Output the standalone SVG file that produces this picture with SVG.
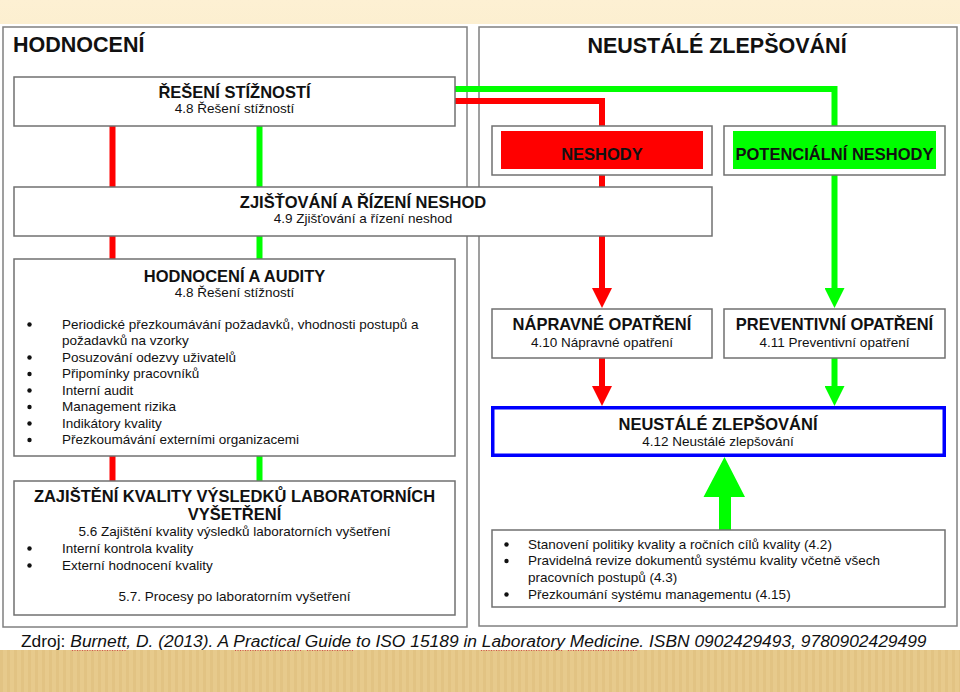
<svg xmlns="http://www.w3.org/2000/svg" width="960" height="692" viewBox="0 0 960 692">
<defs>
<style>
text{font-family:"Liberation Sans",Arial,sans-serif;fill:#111}
.h{font-size:21.5px;font-weight:bold}
.t{font-size:16.5px;font-weight:bold;text-anchor:middle}
.s{font-size:13.5px;text-anchor:middle}
.b{font-size:13.5px}
.dot{fill:#111}
.panel{fill:#fff;stroke:#808080;stroke-width:1.5}
.box{fill:#fff;stroke:#707070;stroke-width:1.5}
.red{fill:none;stroke:#ff0000;stroke-width:6}
.grn{fill:none;stroke:#00ff00;stroke-width:6}
.foot{font-size:17.4px}
.sq{stroke:#d05050;stroke-width:1.2;stroke-dasharray:1 1.5}
</style>
<marker id="ar" viewBox="0 -10 20 20" refX="0" refY="0" markerWidth="20" markerHeight="20" markerUnits="userSpaceOnUse" orient="auto"><path d="M0,-10 L20,0 L0,10 Z" fill="#ff0000"/></marker>
<marker id="ag" viewBox="0 -10 20 20" refX="0" refY="0" markerWidth="20" markerHeight="20" markerUnits="userSpaceOnUse" orient="auto"><path d="M0,-10 L20,0 L0,10 Z" fill="#00ff00"/></marker>
<pattern id="stripes" width="7" height="42" patternUnits="userSpaceOnUse">
<rect width="7" height="42" fill="#e7ca8c"/>
<rect x="0" width="3" height="42" fill="#e2c383"/>
</pattern>
<linearGradient id="top" x1="0" y1="0" x2="0" y2="1">
<stop offset="0" stop-color="#fdf0d3"/>
<stop offset="1" stop-color="#fcefd0"/>
</linearGradient>
</defs>
<rect width="960" height="692" fill="#fff"/>
<rect width="960" height="24" fill="url(#top)"/>
<rect y="650" width="960" height="42" fill="url(#stripes)"/>

<g id="panel-hodnoceni">
<rect class="panel" x="3" y="27" width="464" height="600"/>
<text class="h" x="13" y="52">HODNOCENÍ</text>
</g>
<g id="panel-zlepsovani">
<rect class="panel" x="479" y="27" width="478" height="599"/>
<text class="h" x="717" y="53" text-anchor="middle">NEUSTÁLÉ ZLEPŠOVÁNÍ</text>
</g>

<g id="connectors">
<path class="red" d="M112.5,126 V481"/>
<path class="grn" d="M259.5,126 V481"/>
<path class="red" d="M455,101 H602 V288" marker-end="url(#ar)"/>
<path class="grn" d="M455,89 H834.5 V288" marker-end="url(#ag)"/>
<path class="red" d="M602,358 V386" marker-end="url(#ar)"/>
<path class="grn" d="M834.5,358 V386" marker-end="url(#ag)"/>
<polygon points="724.5,457 745,497 731,497 731,530 719,530 719,497 703.5,497" fill="#00ff00"/>
</g>

<g id="reseni-stiznosti">
<rect class="box" x="14" y="77" width="441" height="49"/>
<text class="t" x="234.5" y="97.5">ŘEŠENÍ STÍŽNOSTÍ</text>
<text class="s" x="234.5" y="113">4.8 Řešení stížností</text>
</g>

<g id="zjistovani">
<rect class="box" x="14" y="187" width="698" height="49"/>
<text class="t" x="363" y="207.5">ZJIŠŤOVÁNÍ A ŘÍZENÍ NESHOD</text>
<text class="s" x="363" y="223">4.9 Zjišťování a řízení neshod</text>
</g>

<g id="hodnoceni-audity">
<rect class="box" x="14" y="259" width="441" height="197"/>
<text class="t" x="234.5" y="281.5">HODNOCENÍ A AUDITY</text>
<text class="s" x="234.5" y="297">4.8 Řešení stížností</text>
<circle class="dot" cx="29.5" cy="324.5" r="2.2"/><text class="b" x="62" y="328.5">Periodické přezkoumávání požadavků, vhodnosti postupů a</text>
<text class="b" x="62" y="345">požadavků na vzorky</text>
<circle class="dot" cx="29.5" cy="357.5" r="2.2"/><text class="b" x="62" y="361.5">Posuzování odezvy uživatelů</text>
<circle class="dot" cx="29.5" cy="374" r="2.2"/><text class="b" x="62" y="378">Připomínky pracovníků</text>
<circle class="dot" cx="29.5" cy="390.5" r="2.2"/><text class="b" x="62" y="394.5">Interní audit</text>
<circle class="dot" cx="29.5" cy="407" r="2.2"/><text class="b" x="62" y="411">Management rizika</text>
<circle class="dot" cx="29.5" cy="423.5" r="2.2"/><text class="b" x="62" y="427.5">Indikátory kvality</text>
<circle class="dot" cx="29.5" cy="440" r="2.2"/><text class="b" x="62" y="444">Přezkoumávání externími organizacemi</text>
</g>

<g id="zajisteni-kvality">
<rect class="box" x="14" y="481" width="441" height="134"/>
<text class="t" x="234.5" y="502">ZAJIŠTĚNÍ KVALITY VÝSLEDKŮ LABORATORNÍCH</text>
<text class="t" x="234.5" y="519.5">VYŠETŘENÍ</text>
<text class="s" x="234.5" y="535.5">5.6 Zajištění kvality výsledků laboratorních vyšetření</text>
<circle class="dot" cx="29.5" cy="548.5" r="2.2"/><text class="b" x="62" y="552.5">Interní kontrola kvality</text>
<circle class="dot" cx="29.5" cy="565.5" r="2.2"/><text class="b" x="62" y="569.5">Externí hodnocení kvality</text>
<text class="s" x="234.5" y="601">5.7. Procesy po laboratorním vyšetření</text>
</g>

<g id="neshody">
<rect class="box" x="492" y="126" width="220" height="49"/>
<rect x="501" y="131" width="202" height="38" fill="#ff0000"/>
<text class="t" x="602" y="159.5">NESHODY</text>
</g>

<g id="potencialni-neshody">
<rect class="box" x="724" y="126" width="221" height="49"/>
<rect x="733" y="131" width="203" height="38" fill="#00ff00"/>
<text class="t" x="834.5" y="159.5">POTENCIÁLNÍ NESHODY</text>
</g>

<g id="napravne-opatreni">
<rect class="box" x="492" y="309" width="220" height="49"/>
<text class="t" x="602" y="330">NÁPRAVNÉ OPATŘENÍ</text>
<text class="s" x="602" y="346.5">4.10 Nápravné opatření</text>
</g>

<g id="preventivni-opatreni">
<rect class="box" x="724" y="309" width="221" height="49"/>
<text class="t" x="834.5" y="330">PREVENTIVNÍ OPATŘENÍ</text>
<text class="s" x="834.5" y="346.5">4.11 Preventivní opatření</text>
</g>

<g id="neustale-zlepsovani">
<rect x="492.75" y="407.75" width="451.5" height="47.5" fill="#fff" stroke="#0000ff" stroke-width="3.5"/>
<text class="t" x="718" y="430">NEUSTÁLÉ ZLEPŠOVÁNÍ</text>
<text class="s" x="718" y="446">4.12 Neustálé zlepšování</text>
</g>

<g id="management-vstupy">
<rect class="box" x="492" y="530" width="453" height="77"/>
<circle class="dot" cx="506.5" cy="544.5" r="2.2"/><text class="b" x="528" y="548.5">Stanovení politiky kvality a ročních cílů kvality (4.2)</text>
<circle class="dot" cx="506.5" cy="561" r="2.2"/><text class="b" x="528" y="565">Pravidelná revize dokumentů systému kvality včetně všech</text>
<text class="b" x="528" y="581.5">pracovních postupů (4.3)</text>
<circle class="dot" cx="506.5" cy="594.5" r="2.2"/><text class="b" x="528" y="598.5">Přezkoumání systému managementu (4.15)</text>
</g>

<g id="zdroj">
<text class="foot" x="21" y="647">Zdroj: <tspan font-style="italic">Burnett, D. (2013). A Practical Guide to ISO 15189 in Laboratory Medicine. ISBN 0902429493, 9780902429499</tspan></text>
<line class="sq" x1="72" y1="650.5" x2="127" y2="650.5"/>
<line class="sq" x1="235" y1="650.5" x2="301" y2="650.5"/>
<line class="sq" x1="307" y1="650.5" x2="354" y2="650.5"/>
<line class="sq" x1="481" y1="650.5" x2="563" y2="650.5"/>
<line class="sq" x1="568" y1="650.5" x2="637" y2="650.5"/>
</g>
</svg>
